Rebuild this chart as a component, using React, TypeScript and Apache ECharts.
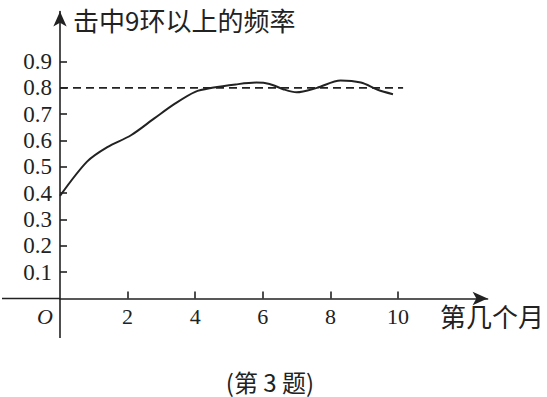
import React, { useEffect, useRef } from "react";
import * as echarts from "echarts";

const xTicks = [2, 4, 6, 8, 10];
const yTicks = [0.1, 0.2, 0.3, 0.4, 0.5, 0.6, 0.7, 0.8, 0.9];
const curveX = [0, 0.8, 1.4, 2.1, 2.8, 3.4, 4.0, 4.5, 5.2, 5.8, 6.2, 6.6, 7.0, 7.6, 8.3, 8.9, 9.4, 9.85];
const curveY = [0.39, 0.52, 0.575, 0.62, 0.685, 0.74, 0.785, 0.8, 0.813, 0.82, 0.815, 0.795, 0.783, 0.8, 0.828, 0.82, 0.793, 0.776];
const refLevel = 0.8;
const refStart = 0;
const refEnd = 10.15;
const titleY = "击中9环以上的频率";
const titleX = "第几个月";
const caption = "(第 3 题)";
const originLabel = "O";

const INK = "#222";
const SERIF = "'Liberation Serif', 'Times New Roman', serif";
const CJK = "'Noto Sans CJK SC', sans-serif";

// plot frame (pixels)
const X0 = 60;
const Y0 = 298.5;

export default function App() {
  const ref = useRef<HTMLDivElement>(null);
  useEffect(() => {
    if (!ref.current) return;
    const chart = echarts.init(ref.current, undefined, { renderer: "svg" });
    const curve = curveX.map((x, i) => [x, curveY[i]]);
    chart.setOption({
      animation: false,
      backgroundColor: "#fff",
      grid: { left: X0, top: 11.5, width: 427.6, height: Y0 - 11.5, containLabel: false, outerBoundsMode: "none" },
      xAxis: {
        type: "value",
        min: 0,
        max: 12.65,
        splitLine: { show: false },
        axisLine: {
          onZero: false,
          symbol: ["none", "arrow"],
          symbolSize: [10, 15],
          lineStyle: { color: INK, width: 1.6 },
        },
        axisTick: { show: true, inside: true, length: 7, customValues: xTicks, lineStyle: { color: INK, width: 1.6 } },
        axisLabel: {
          customValues: xTicks,
          margin: 7,
          color: INK,
          fontFamily: SERIF,
          fontSize: 22,
          formatter: (v: number) => String(v),
        },
      },
      yAxis: {
        type: "value",
        min: 0,
        max: 1.09,
        splitLine: { show: false },
        axisLine: {
          onZero: false,
          symbol: ["none", "arrow"],
          symbolSize: [10, 15],
          lineStyle: { color: INK, width: 1.6 },
        },
        axisTick: { show: true, inside: true, length: 7, customValues: yTicks, lineStyle: { color: INK, width: 1.6 } },
        axisLabel: {
          customValues: yTicks,
          margin: 8,
          color: INK,
          fontFamily: SERIF,
          fontSize: 23,
          formatter: (v: number) => v.toFixed(1),
        },
      },
      series: [
        {
          type: "line",
          data: curve,
          smooth: 0.3,
          symbol: "none",
          lineStyle: { color: INK, width: 2 },
          z: 3,
        },
        {
          type: "line",
          data: [
            [refStart, refLevel],
            [refEnd, refLevel],
          ],
          symbol: "none",
          lineStyle: { color: INK, width: 1.8, type: [8, 5] },
          z: 2,
        },
      ],
      graphic: [
        {
          type: "line",
          shape: { x1: 2, y1: Y0, x2: X0, y2: Y0 },
          style: { stroke: INK, lineWidth: 1.6 },
        },
        {
          type: "line",
          shape: { x1: X0, y1: Y0, x2: X0, y2: 338 },
          style: { stroke: INK, lineWidth: 1.6 },
        },
        {
          type: "text",
          left: 73,
          top: 6,
          style: { text: titleY, fill: INK, font: `26px ${CJK}` },
        },
        {
          type: "text",
          left: 440,
          top: 302,
          style: { text: titleX, fill: INK, font: `26px ${CJK}` },
        },
        {
          type: "text",
          x: 45,
          y: 316,
          style: { text: originLabel, fill: INK, font: `italic 22px ${SERIF}`, align: "center", verticalAlign: "middle" },
        },
        {
          type: "text",
          x: 270,
          y: 381,
          style: { text: caption, fill: INK, font: `24px ${CJK}`, align: "center", verticalAlign: "middle" },
        },
      ],
    });
    return () => chart.dispose();
  }, []);
  return (
    <div
      ref={ref}
      style={{ position: "fixed", left: 0, top: 0, width: 547, height: 397, background: "#fff" }}
    />
  );
}
